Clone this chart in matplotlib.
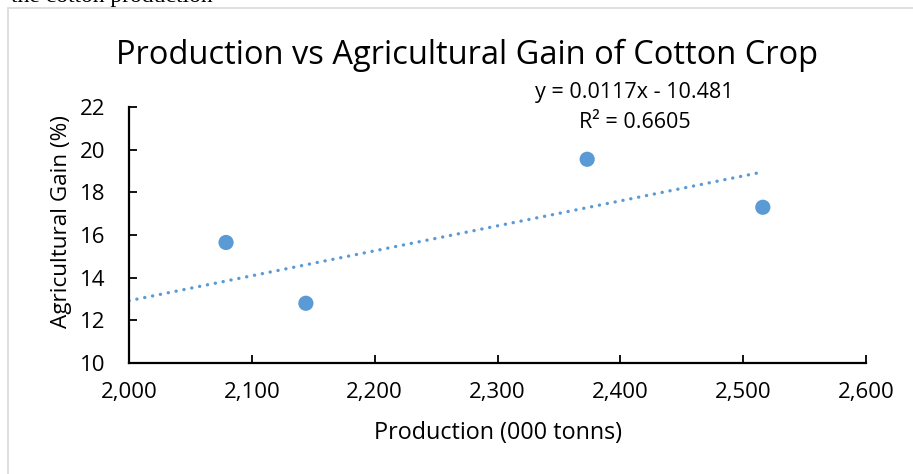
import matplotlib.pyplot as plt
import numpy as np
from matplotlib.patches import Rectangle

# Dane
production = [2079, 2144, 2373, 2516]
gain = [15.65, 12.8, 19.55, 17.3]
x_ticks = [2000, 2100, 2200, 2300, 2400, 2500, 2600]
y_ticks = [10, 12, 14, 16, 18, 20, 22]
# linia trendu wg równania podanego na wykresie
trend_slope = 0.0117
trend_intercept = -10.481
trend_eq = "y = 0.0117x - 10.481"
trend_r2 = "R² = 0.6605"

BLUE = "#5B9BD5"
W, H = 913, 474

plt.rcParams["font.family"] = ["Open Sans", "DejaVu Sans"]

fig = plt.figure(figsize=(W / 100, H / 100), dpi=100)

# ramka wykresu i ucięty tekst dokumentu nad nią
fig.patches.append(Rectangle((8 / W, -0.1), 1.2, (H - 8) / H + 0.1,
                             transform=fig.transFigure, fill=False,
                             edgecolor="#d9d9d9", linewidth=1.2))
fig.text(11 / W, 1 - 2 / H, "the cotton production", family="Liberation Serif",
         fontsize=17, va="baseline", ha="left", color="black")

ax = fig.add_axes([129 / W, 111 / H, 737 / W, 256 / H])

ax.scatter(production, gain, s=120, color=BLUE, zorder=3, edgecolors="none")

xt = np.array([x_ticks[0], max(production)])
ax.plot(xt, trend_slope * xt + trend_intercept, color=BLUE, linewidth=2.4,
        linestyle=(0, (0.05, 2.35)), dash_capstyle="round", zorder=2)

fig.text(634 / W, 1 - 93 / H, trend_eq, ha="center", va="center", fontsize=15.5)
fig.text(635 / W, 1 - 122 / H, trend_r2, ha="center", va="center", fontsize=15.5)

ax.set_xlim(2000, 2600)
ax.set_ylim(10, 22)
ax.set_xticks(x_ticks)
ax.set_yticks(y_ticks)
ax.set_xticklabels([f"{v:,}" for v in x_ticks])
ax.tick_params(direction="in", length=6, width=1.3, labelsize=16)
ax.tick_params(axis="x", pad=14)
ax.tick_params(axis="y", pad=17)
for side in ["top", "right"]:
    ax.spines[side].set_visible(False)
for side in ["left", "bottom"]:
    ax.spines[side].set_linewidth(1.6)

ax.set_xlabel("Production (000 tonns)", fontsize=16.8)
ax.set_ylabel("Agricultural Gain (%)", fontsize=16.2)
ax.xaxis.set_label_coords(0.5, (363 - 433) / 256)
ax.xaxis.label.set_va("center")
ax.yaxis.set_label_coords((62 - 129) / 737, (363 - 222) / 256)
ax.yaxis.label.set_va("center")

fig.text(467 / W, 1 - 55 / H, "Production vs Agricultural Gain of Cotton Crop",
         ha="center", va="center", fontsize=23.5)

fig.savefig("out.png", dpi=100)
